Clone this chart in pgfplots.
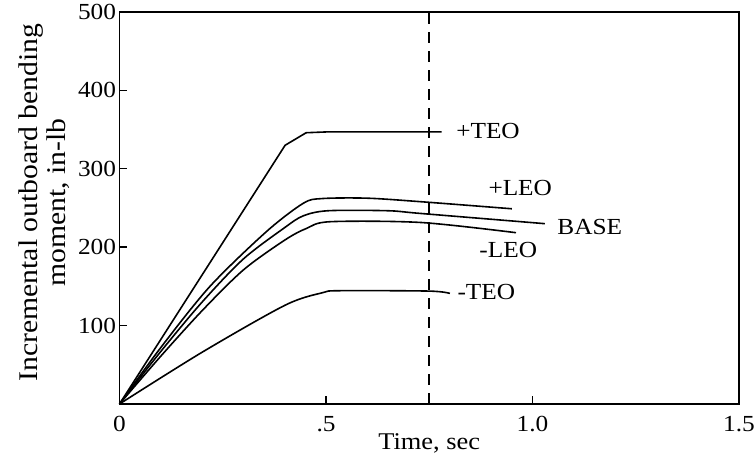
\documentclass[border=0pt]{standalone}
\usepackage{fontspec}
\setmainfont{Liberation Serif}[FakeStretch=1.1]
\usepackage{pgfplots}
\pgfplotsset{compat=1.18}
\begin{document}
\begin{tikzpicture}[font=\fontsize{23bp}{28bp}\selectfont]
\begin{axis}[
  name=ax,
  scale only axis,
  width=619.5bp, height=392bp,
  xmin=0, xmax=1.5, ymin=0, ymax=500,
  axis line style={line width=1.9bp},
  xtick={0,0.5,1.0,1.5},
  xticklabels={0,.5,1.0,1.5},
  ytick={100,200,300,400,500},
  tick align=inside,
  xtick pos=bottom, ytick pos=left,
  major tick length=8bp,
  tick style={line width=1.4bp, black},
  /pgf/number format/assume math mode=true,
  xticklabel style={anchor=base, yshift=-28bp},
  xlabel={Time, sec},
  xlabel style={at={(axis description cs:0.5,0)}, anchor=base, yshift=-46bp, font=\fontsize{24bp}{28bp}\selectfont},
  ylabel={Incremental outboard bending\\moment, in-lb},
  ylabel style={at={(axis description cs:-0.1219,0.514)}, anchor=center, align=center, font=\fontsize{27bp}{28bp}\selectfont},
  clip=false,
]
% dashed line at t = 0.75
\addplot[black, line width=2bp, dash pattern=on 11bp off 8bp] coordinates {(0.75,0) (0.75,500)};
% +TEO
\addplot[black, line width=1.6bp] coordinates {(0,0) (0.401,330) (0.452,346) (0.5,347) (0.78,347)};
% +LEO
\addplot[black, line width=1.6bp, smooth] coordinates {(0,0) (0.1,72) (0.219,150) (0.356,220) (0.445,256) (0.49,262) (0.6,262.5) (0.73,258) (0.95,249)};
% BASE
\addplot[black, line width=1.6bp, smooth] coordinates {(0,0) (0.1,67) (0.2,130) (0.3,185) (0.4,225) (0.445,240) (0.505,246.5) (0.65,246.5) (0.73,243) (1.03,230)};
% -LEO
\addplot[black, line width=1.6bp, smooth] coordinates {(0,0) (0.1,61) (0.2,119) (0.3,171) (0.4,209) (0.453,224) (0.51,232.5) (0.73,231.5) (0.96,218.5)};
% -TEO
\addplot[black, line width=1.6bp, smooth] coordinates {(0,0) (0.2,66) (0.401,126) (0.492,142) (0.534,144.5) (0.75,144) (0.8,141)};
\node[anchor=west, inner sep=0pt] at (axis cs:0.815,348) {+TEO};
\node[anchor=west, inner sep=0pt] at (axis cs:0.893,276) {+LEO};
\node[anchor=west, inner sep=0pt] at (axis cs:1.06,226) {BASE};
\node[anchor=west, inner sep=0pt] at (axis cs:0.871,196) {-LEO};
\node[anchor=west, inner sep=0pt] at (axis cs:0.818,142.5) {-TEO};
\end{axis}
\pgfresetboundingbox
\path ([xshift=-119.5bp,yshift=-58bp]ax.south west) rectangle ([xshift=16bp,yshift=12bp]ax.north east);
\end{tikzpicture}
\end{document}
